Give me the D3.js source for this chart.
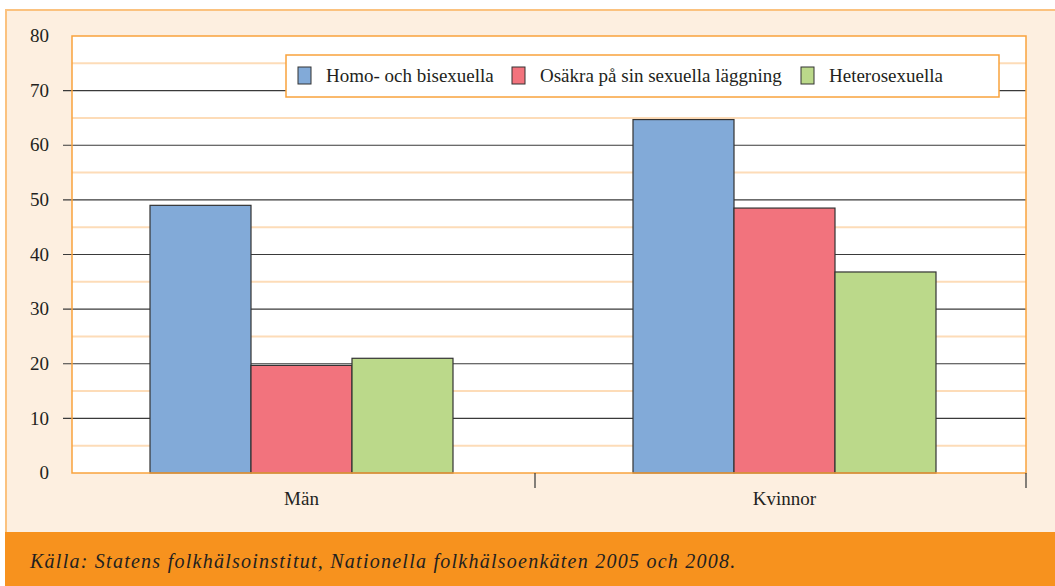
<!DOCTYPE html>
<html>
<head>
<meta charset="utf-8">
<script src="https://cdn.jsdelivr.net/npm/d3@7"></script>
</head>
<body style="margin:0">
<svg id="chart" width="1055" height="586" font-family="Liberation Serif"></svg>
<script>
const categories = ["Män", "Kvinnor"];
const seriesNames = ["Homo- och bisexuella", "Osäkra på sin sexuella läggning", "Heterosexuella"];
const homoBi = [49, 64.7];
const osakra = [19.7, 48.5];
const hetero = [21, 36.8];
const yTicks = [0, 10, 20, 30, 40, 50, 60, 70, 80];
const source = "Källa: Statens folkhälsoinstitut, Nationella folkhälsoenkäten 2005 och 2008.";

const values = [homoBi, osakra, hetero];
const colors = ["#82aad8", "#f2737d", "#bbd98a"];
const serif = "Liberation Serif";
const ink = "#231f20";

const svg = d3.select("#chart");

// panel background + frame
svg.append("rect").attr("x", 6).attr("y", 10).attr("width", 1060).attr("height", 530)
  .attr("fill", "#fdefe0").attr("stroke", "#fbc27f").attr("stroke-width", 2);

// footer band
svg.append("rect").attr("x", 5).attr("y", 532).attr("width", 1060).attr("height", 60)
  .attr("fill", "#f7921e");
svg.append("text").attr("x", 30).attr("y", 568)
  .attr("font-family", serif).attr("font-style", "italic").attr("font-size", 20)
  .attr("letter-spacing", 1.25).attr("fill", ink)
  .text(source);

// plot area
const plot = { left: 72, right: 1026, top: 36, bottom: 473 };

const y = d3.scaleLinear().domain([0, 80]).range([plot.bottom, plot.top]);

const x0 = d3.scaleBand().domain(categories).range([60, 1026]);
const groupW = 303;
const x1 = d3.scaleBand().domain(seriesNames).range([0, groupW]);

svg.append("rect")
  .attr("x", plot.left).attr("y", plot.top)
  .attr("width", plot.right - plot.left).attr("height", plot.bottom - plot.top)
  .attr("fill", "#fff");

// minor grid lines (at 5s)
const minor = d3.range(5, 80, 10);
svg.append("g").selectAll("line").data(minor).join("line")
  .attr("x1", plot.left).attr("x2", plot.right)
  .attr("y1", d => y(d)).attr("y2", d => y(d))
  .attr("stroke", "#fddcb8").attr("stroke-width", 2);

// y axis labels
svg.append("g").attr("transform", `translate(${plot.left},0)`)
  .call(d3.axisLeft(y).tickValues(yTicks).tickSize(0).tickPadding(23))
  .call(a => a.select(".domain").remove())
  .call(a => a.attr("font-family", serif).attr("font-size", 19))
  .call(a => a.selectAll("text").attr("fill", ink).attr("dy", "0.3em"));

// major grid lines
svg.append("g").selectAll("line").data(yTicks.filter(d => d > 0 && d < 80)).join("line")
  .attr("x1", plot.left - 9).attr("x2", plot.right)
  .attr("y1", d => y(d)).attr("y2", d => y(d))
  .attr("stroke", "#3a3a3a").attr("stroke-width", 1.2);

// bars
const groups = svg.append("g").selectAll("g").data(categories).join("g")
  .attr("transform", c => `translate(${x0(c) + (x0.bandwidth() - groupW) / 2},0)`);

groups.selectAll("rect").data((c, ci) => seriesNames.map((s, si) => ({ s, si, v: values[si][ci] })))
  .join("rect")
  .attr("x", d => x1(d.s)).attr("width", x1.bandwidth())
  .attr("y", d => y(d.v)).attr("height", d => y(0) - y(d.v))
  .attr("fill", d => colors[d.si])
  .attr("stroke", "#333").attr("stroke-width", 1.2);

// plot border
svg.append("rect")
  .attr("x", plot.left).attr("y", plot.top)
  .attr("width", plot.right - plot.left).attr("height", plot.bottom - plot.top)
  .attr("fill", "none").attr("stroke", "#f9a33c").attr("stroke-width", 1.5);

// category axis
const catTicks = [x0("Kvinnor") - 8, plot.right];
svg.append("g").selectAll("line").data(catTicks).join("line")
  .attr("x1", d => d).attr("x2", d => d)
  .attr("y1", plot.bottom).attr("y2", plot.bottom + 15)
  .attr("stroke", "#333").attr("stroke-width", 1.2);

svg.append("g").selectAll("text").data(categories).join("text")
  .attr("x", c => x0(c) + x0.bandwidth() / 2)
  .attr("y", 505)
  .attr("text-anchor", "middle")
  .attr("font-family", serif).attr("font-size", 19).attr("fill", ink)
  .text(c => c);

// legend
const legend = svg.append("g");
legend.append("rect").attr("x", 286).attr("y", 55).attr("width", 713).attr("height", 42)
  .attr("fill", "#fff").attr("stroke", "#f9a33c").attr("stroke-width", 1.5);

const legendX = [298, 512, 801];
const items = legend.selectAll("g").data(seriesNames).join("g")
  .attr("transform", (d, i) => `translate(${legendX[i]},67)`);
items.append("rect").attr("width", 13).attr("height", 17)
  .attr("fill", (d, i) => colors[i]).attr("stroke", "#333").attr("stroke-width", 1);
items.append("text").attr("x", 28).attr("y", 15)
  .attr("font-family", serif).attr("font-size", 19).attr("fill", ink)
  .text(d => d);
</script>
</body>
</html>
